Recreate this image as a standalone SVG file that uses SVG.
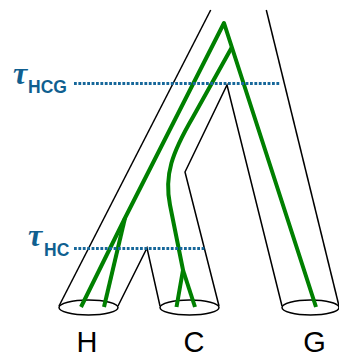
<svg xmlns="http://www.w3.org/2000/svg" width="339" height="358" viewBox="0 0 339 358">
<style>
.tree{fill:none;stroke:#000;stroke-width:1.5;stroke-linejoin:miter}
.gene{fill:none;stroke:#008000;stroke-width:4;stroke-linejoin:round}
.tau{fill:none;stroke:#16679a;stroke-width:3;stroke-dasharray:2.8 1.6}
.lbl{font-family:"Liberation Sans",Arial,sans-serif;font-size:29px;fill:#000;text-anchor:middle}
.sym{font-family:"Liberation Serif","Times New Roman",serif;font-style:italic;font-weight:bold;font-size:32px;fill:#105f90}
.sub{font-family:"Liberation Sans",Arial,sans-serif;font-weight:bold;font-size:17.5px;fill:#105f90}
</style>
<g id="species-tree">
<path class="tree" d="M210.7,10 L59,306"/>
<path class="tree" d="M118,306 L147,248 L160,306"/>
<path class="tree" d="M219,306 L185,172 L227,85 L282,306"/>
<path class="tree" d="M266.3,10 L339,306"/>
</g>
<g id="H"><ellipse class="tree" cx="88.5" cy="307.5" rx="29.5" ry="7.5"/><text class="lbl" x="87" y="351.5">H</text></g>
<g id="C"><ellipse class="tree" cx="189.5" cy="307.5" rx="29.5" ry="7.5"/><text class="lbl" x="194" y="351.5">C</text></g>
<g id="G"><ellipse class="tree" cx="310.5" cy="307.5" rx="28.5" ry="7.5"/><text class="lbl" x="314.5" y="351.5">G</text></g>
<g id="gene-tree">
<path class="gene" d="M81,307 L125,218 L224,23 L316,307"/>
<path class="gene" d="M104,307 L125,218"/>
<path class="gene" d="M232,47 L193,117 C172,153 164,175 170,205 L183,270 L176.5,307"/>
<path class="gene" d="M183,270 L195,307"/>
</g>
<g id="tauHCG">
<path class="tau" d="M74,83.5 H280"/>
<text class="sym" x="13" y="84">τ</text><text class="sub" x="28" y="93">HCG</text>
</g>
<g id="tauHC">
<path class="tau" d="M74,248.5 H205"/>
<text class="sym" x="28" y="246">τ</text><text class="sub" x="44" y="255.5">HC</text>
</g>
</svg>
